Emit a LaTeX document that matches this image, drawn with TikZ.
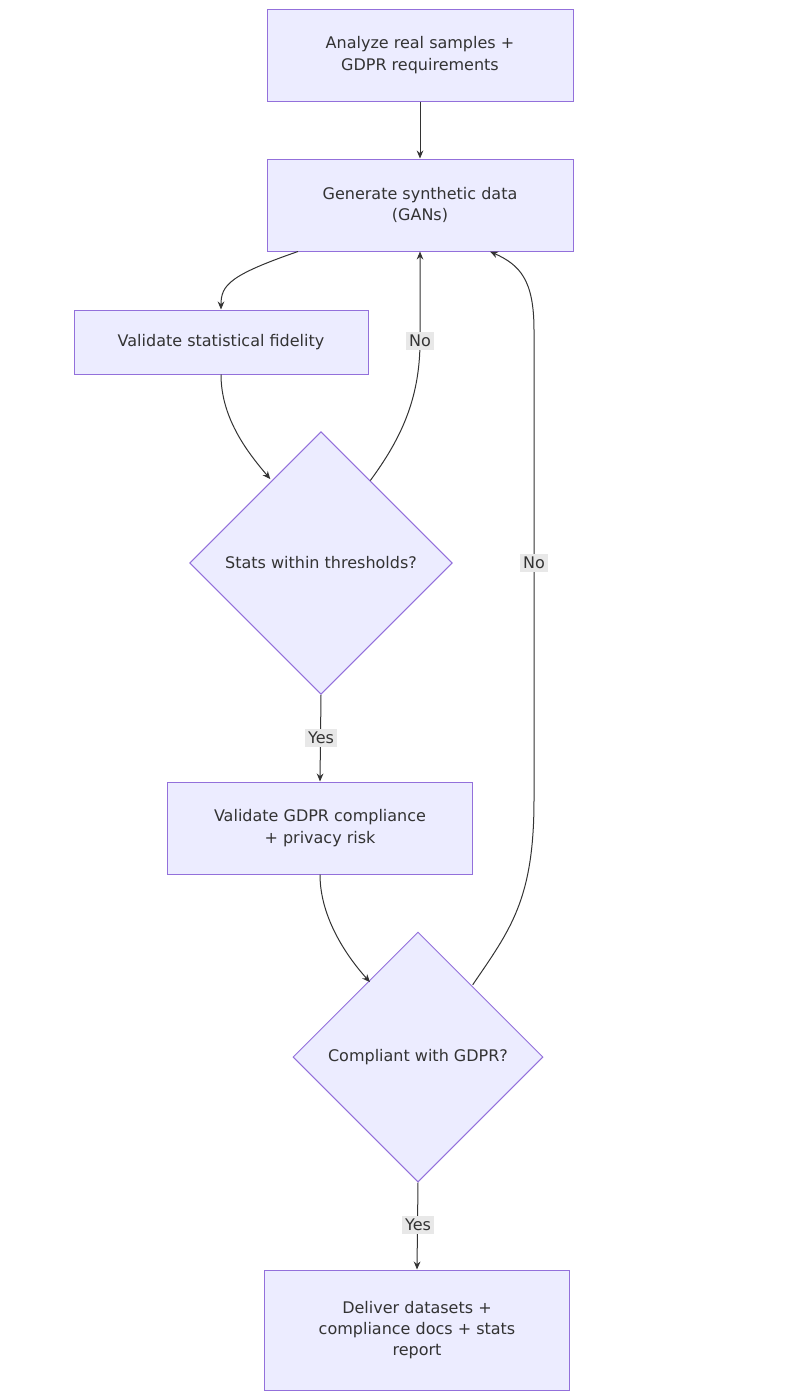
\documentclass[tikz,border=0pt]{standalone}
\usepackage{fontspec}
\setmainfont{DejaVu Sans}
\usetikzlibrary{shapes.geometric,arrows.meta}
\definecolor{boxfill}{HTML}{ECECFF}
\definecolor{boxline}{HTML}{9370DB}
\definecolor{ink}{HTML}{333333}
\definecolor{lblbg}{HTML}{E8E8E8}
\tikzset{every picture/.style={line width=0.75pt}}
\tikzset{
  stepbox/.style={draw=boxline,fill=boxfill,text=ink,align=center,font=\fontsize{12}{16}\selectfont,inner sep=0pt},
  check/.style={stepbox,diamond},
  flow/.style={draw=ink,-{Stealth[length=6pt,width=5pt]}},
  lbl/.style={fill=lblbg,text=ink,font=\fontsize{12}{14}\selectfont,inner sep=2pt}
}
\begin{document}
\begin{tikzpicture}[x=0.75pt,y=0.75pt,yscale=-1,xscale=1]
\useasboundingbox (0,0) rectangle (788,1400);
% boxes
\node[stepbox,minimum width=229.5pt,minimum height=69pt] (analyze) at (420,55) {Analyze real samples +\\GDPR requirements};
\node[stepbox,minimum width=229.5pt,minimum height=69pt] (generate) at (420,205) {Generate synthetic data\\(GANs)};
\node[stepbox,minimum width=220.5pt,minimum height=48pt] (fidelity) at (221,342) {Validate statistical fidelity};
\node[check,minimum width=197pt,minimum height=197pt] (stats) at (321,563) {Stats within thresholds?};
\node[stepbox,minimum width=229pt,minimum height=69pt] (gdpr) at (320,828) {Validate GDPR compliance\\+ privacy risk};
\node[check,minimum width=187.5pt,minimum height=187.5pt] (comply) at (418,1057) {Compliant with GDPR?};
\node[stepbox,minimum width=229pt,minimum height=90pt] (deliver) at (417,1330) {Deliver datasets +\\compliance docs + stats\\report};
% connectors
\draw[flow] (analyze) -- (generate);
\draw[flow] ([xshift=-91.5pt]generate.south) .. controls (230,275) and (221,285) .. (fidelity.north);
\draw[flow] (fidelity.south) .. controls (221,420) and (250,455) .. ([xshift=-38pt,yshift=36pt]stats.north);
\draw[flow] ([xshift=37pt,yshift=37pt]stats.north) .. controls (400,440) and (420,400) .. (420,341) -- (generate.south);
\node[lbl] at (420,341) {No};
\draw[flow] (stats.south) -- (gdpr.north);
\node[lbl] at (321,738) {Yes};
\draw[flow] (gdpr.south) .. controls (320,920) and (350,960) .. ([xshift=-36pt,yshift=38pt]comply.north);
\draw[flow] ([xshift=41pt,yshift=40pt]comply.north) .. controls (510,930) and (534,900) .. (534,800) -- (534,330) .. controls (534,280) and (520,265) .. ([xshift=52.5pt]generate.south);
\node[lbl] at (534,563) {No};
\draw[flow] (comply.south) -- (deliver.north);
\node[lbl] at (418,1225) {Yes};
\end{tikzpicture}
\end{document}
